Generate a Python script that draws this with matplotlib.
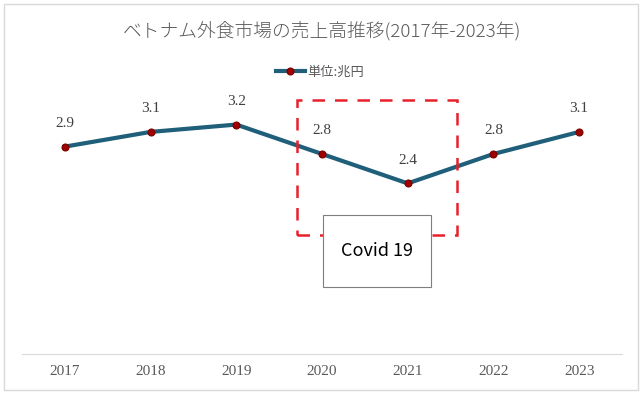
import matplotlib.pyplot as plt
from matplotlib.patches import Rectangle

plt.rcParams['font.family'] = ['Noto Sans CJK JP', 'DejaVu Sans']

# data
years = ['2017', '2018', '2019', '2020', '2021', '2022', '2023']
sales = [2.9, 3.1, 3.2, 2.8, 2.4, 2.8, 3.1]
series_name = '単位:兆円'
title = 'ベトナム外食市場の売上高推移(2017年-2023年)'

line_col = '#1F5F7A'
marker_col = '#A00000'
text_col = '#595959'

fig = plt.figure(figsize=(6.44, 3.94), dpi=100)
fig.patch.set_facecolor('white')

# outer chart border
fig.add_artist(Rectangle((4 / 644, 4 / 394), 634 / 644, 386 / 394,
                         transform=fig.transFigure, fill=False,
                         edgecolor='#D9D9D9', lw=1))

ax = fig.add_axes([22 / 644, 40 / 394, 600 / 644, 264 / 394])
x = list(range(len(years)))
ax.plot(x, sales, color=line_col, lw=3, marker='o', ms=5,
        markerfacecolor=marker_col, markeredgecolor='#7A0000', mew=0.8,
        label=series_name, zorder=3)

for xi, v in zip(x, sales):
    ax.annotate(f'{v:.1f}', (xi, v), xytext=(0, 12), textcoords='offset points',
                ha='center', va='bottom', fontsize=11,
                family='Liberation Serif', color='#404040')

ax.set_xlim(-0.5, len(years) - 0.5)
ax.set_ylim(0.08, 3.67)
ax.set_xticks(x)
ax.set_xticklabels(years, family='Liberation Serif', fontsize=11, color=text_col)
ax.set_yticks([])
ax.tick_params(axis='x', length=0, pad=8)
for s in ['top', 'right', 'left']:
    ax.spines[s].set_visible(False)
ax.spines['bottom'].set_color('#D9D9D9')

# covid highlight box
ax.add_patch(Rectangle((2.71, 1.70), 1.86, 1.84, fill=False,
                       edgecolor='#E8202A', lw=1.8, ls=(0, (5, 4)), zorder=4))
ax.add_patch(Rectangle((3.01, 0.99), 1.26, 0.98, facecolor='white',
                       edgecolor='#7F7F7F', lw=0.8, zorder=5))
ax.text(3.64, 1.48, 'Covid 19', ha='center', va='center', fontsize=13,
        color='black', zorder=6)

fig.text(0.5, 1 - 31 / 394, title, ha='center', va='center',
         fontsize=13.5, fontweight='light', color=text_col)
leg = fig.legend(loc='center', bbox_to_anchor=(0.497, 1 - 72 / 394), frameon=False,
                 fontsize=9.5, handlelength=2.2, handletextpad=0.2)
for t in leg.get_texts():
    t.set_color(text_col)

fig.savefig('out.png', dpi=100)
